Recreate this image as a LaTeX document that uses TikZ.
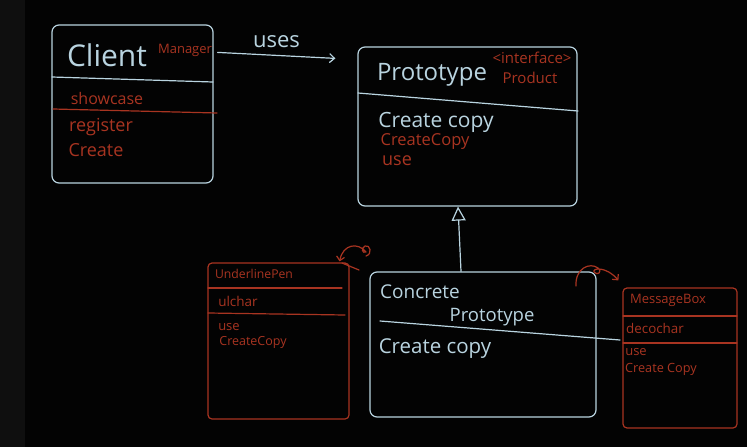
\documentclass[tikz,border=0pt]{standalone}
\usepackage{fontspec}
\setmainfont{Open Sans}
\usetikzlibrary{arrows.meta}
\definecolor{board}{HTML}{030303}
\definecolor{strip}{HTML}{0F0F0F}
\definecolor{chalk}{HTML}{B9D4E0}
\definecolor{rust}{HTML}{A83421}
\newcommand{\fs}[1]{\fontsize{#1}{#1}\selectfont}
\begin{document}
\begin{tikzpicture}[x = 1pt, y = -1pt, line cap = round, line join = round,
    chalkline/.style = {draw = chalk, line width = 1.2pt},
    rustline/.style = {draw = rust, line width = 1.2pt},
    chalkbox/.style = {chalkline, rounded corners = 7pt, inner sep = 0pt},
    rustbox/.style = {rustline, rounded corners = 4pt, inner sep = 0pt},
    word/.style = {text = chalk, inner sep = 0pt},
    redword/.style = {text = rust, inner sep = 0pt}]
  \useasboundingbox (0,0) rectangle (747,447);
  \fill[board] (0,0) rectangle (747,447);
  \fill[strip] (0,0) rectangle (25,447);

  % boxes
  \node[chalkbox, minimum width = 161, minimum height = 158] (client) at (132.5,104) {};
  \node[chalkbox, minimum width = 219, minimum height = 159] (proto) at (467.5,126.5) {};
  \node[chalkbox, minimum width = 226, minimum height = 145] (concrete) at (483,344.5) {};
  \node[rustbox, minimum width = 141, minimum height = 156] (pen) at (278.5,341) {};
  \node[rustbox, minimum width = 114, minimum height = 140] (msgbox) at (680,358) {};

  % Client
  \node[word, font = \fs{30}] (clientname) at (107,55) {Client};
  \node[redword, font = \fs{13}] (manager) at (185,50) {Manager};
  \draw[chalkline] (52,77) -- (213,82);
  \node[redword, font = \fs{16}] (showcase) at (107,98) {showcase};
  \draw[rustline] (53,109) -- (217,113);
  \node[redword, font = \fs{18}] (register) at (101,127) {register};
  \node[redword, font = \fs{18}] (create) at (96,150) {Create};

  % Prototype
  \node[word, font = \fs{24}] (protoname) at (432,75) {Prototype};
  \node[redword, font = \fs{15}] (iface) at (532,58) {<interface>};
  \node[redword, font = \fs{15}] (product) at (530,78) {Product};
  \draw[chalkline] (358,93) -- (578,111);
  \node[word, font = \fs{21}] (protocopy) at (436,122) {Create copy};
  \node[redword, font = \fs{16.5}] (protoredcopy) at (425,142) {CreateCopy};
  \node[redword, font = \fs{18}] (protouse) at (397,161) {use};

  % ConcretePrototype
  \node[word, font = \fs{19}] (concname) at (420,292) {Concrete};
  \node[word, font = \fs{18.5}] (concname2) at (492,317) {Prototype};
  \draw[chalkline] (380,321) -- (620,340);
  \node[word, font = \fs{20.5}] (conccopy) at (435,349) {Create copy};

  % UnderlinePen
  \node[redword, font = \fs{12.2}] (penname) at (254,274) {UnderlinePen};
  \draw[rustline] (208,288) -- (342,288);
  \node[redword, font = \fs{13.5}] (ulchar) at (238,301) {ulchar};
  \draw[rustline] (208,313) -- (345,315);
  \node[redword, font = \fs{13}] (penuse) at (229,327) {use};
  \node[redword, font = \fs{12.5}] (pencopy) at (253,342) {CreateCopy};

  % MessageBox
  \node[redword, font = \fs{13}] (msgname) at (668,300) {MessageBox};
  \draw[rustline] (623,316) -- (737,316);
  \node[redword, font = \fs{13.4}] (decochar) at (655,328) {decochar};
  \draw[rustline] (623,343) -- (737,343);
  \node[redword, font = \fs{13}] (msguse) at (636,352) {use};
  \node[redword, font = \fs{12.7}] (msgcopy) at (661,369) {Create Copy};

  % connectors
  \draw[chalkline, -{Straight Barb[length = 5pt, width = 9pt]}]
    ([shift = {(4,28)}]client.north east) -- ([shift = {(-22,12)}]proto.north west)
    node[midway, above = 7pt, word, font = \fs{22}] (uses) {uses};
  \draw[chalkline, -{Triangle[open, length = 14pt, width = 14pt]}]
    ([xshift = -22]concrete.north) -- ([xshift = -9.5]proto.south);

  \coordinate (pencurl) at (366,256);
  \coordinate (msgcurl) at (576,286);
  \draw[rustline] (342,263) -- (359,270);
  \draw[rustline, -{Straight Barb[length = 4pt, width = 8pt]}]
    (pencurl) .. controls (373,254) and (370,244) .. (365,246)
    .. controls (361,248) and (362,254) .. (366,252)
    .. controls (358,242) and (343,244) .. ([shift = {(-10,-1)}]pen.north east);
  \draw[rustline, -{Straight Barb[length = 4pt, width = 8pt]}]
    (msgcurl) .. controls (575,268) and (590,262) .. (598,268)
    .. controls (603,272) and (597,276) .. (594,272)
    .. controls (592,268) and (606,266) .. ([shift = {(-4,-7)}]msgbox.north west);
\end{tikzpicture}
\end{document}
